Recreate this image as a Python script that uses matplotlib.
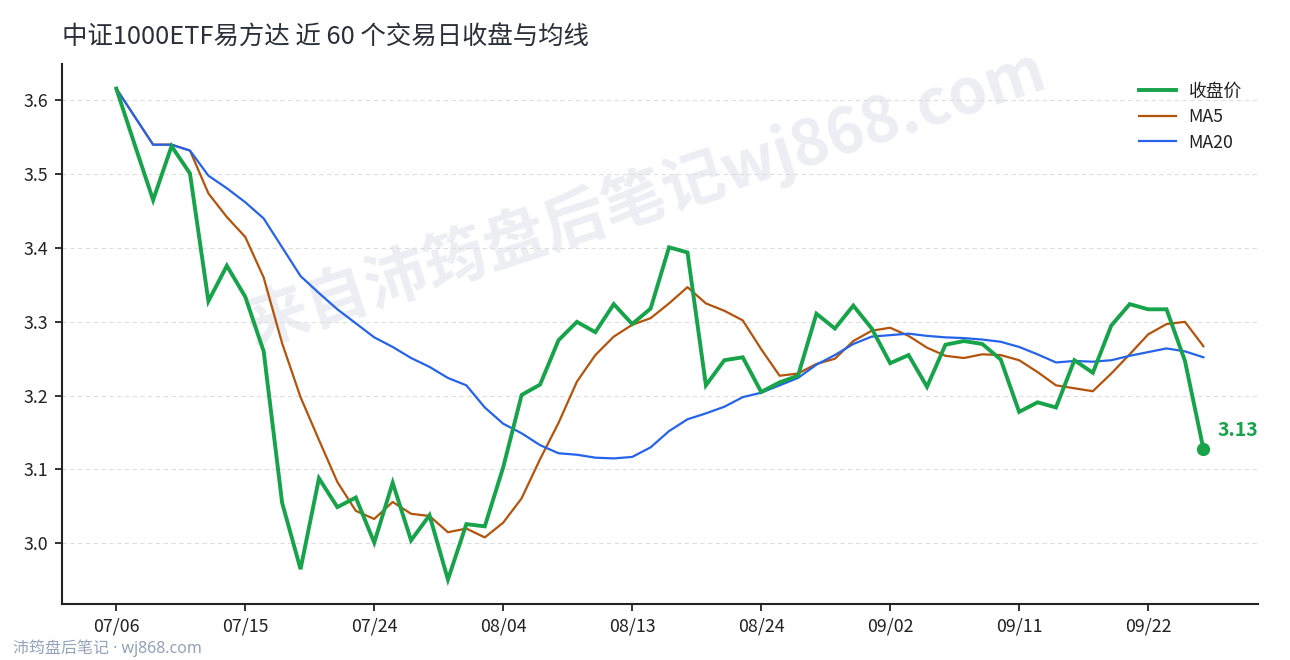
import matplotlib
matplotlib.use("Agg")
import matplotlib.pyplot as plt
import numpy as np

plt.rcParams['font.family'] = ['Noto Sans CJK SC', 'DejaVu Sans']

dates = ['07/06', '07/07', '07/08', '07/09', '07/10', '07/13', '07/14', '07/15', '07/16', '07/17',
         '07/20', '07/21', '07/22', '07/23', '07/24', '07/27', '07/28', '07/29', '07/30', '07/31',
         '08/03', '08/04', '08/05', '08/06', '08/07', '08/10', '08/11', '08/12', '08/13', '08/14',
         '08/17', '08/18', '08/19', '08/20', '08/21', '08/24', '08/25', '08/26', '08/27', '08/28',
         '08/31', '09/01', '09/02', '09/03', '09/04', '09/07', '09/08', '09/09', '09/10', '09/11',
         '09/14', '09/15', '09/16', '09/17', '09/18', '09/21', '09/22', '09/23', '09/24', '09/25']

close = [3.616, 3.540, 3.465, 3.538, 3.501, 3.328, 3.376, 3.334, 3.260, 3.055,
         2.965, 3.088, 3.049, 3.062, 3.001, 3.082, 3.004, 3.038, 2.951, 3.026,
         3.023, 3.103, 3.201, 3.215, 3.275, 3.300, 3.286, 3.324, 3.297, 3.318,
         3.401, 3.394, 3.214, 3.248, 3.252, 3.205, 3.218, 3.227, 3.311, 3.291,
         3.322, 3.291, 3.244, 3.255, 3.212, 3.269, 3.274, 3.270, 3.249, 3.178,
         3.191, 3.184, 3.248, 3.231, 3.295, 3.324, 3.317, 3.317, 3.247, 3.128]

ma5 = [3.616, 3.578, 3.540, 3.540, 3.532, 3.474, 3.442, 3.415, 3.360, 3.271,
       3.198, 3.140, 3.083, 3.044, 3.033, 3.056, 3.040, 3.037, 3.015, 3.020,
       3.008, 3.028, 3.061, 3.114, 3.163, 3.219, 3.255, 3.280, 3.296, 3.305,
       3.325, 3.347, 3.325, 3.315, 3.302, 3.263, 3.227, 3.230, 3.243, 3.250,
       3.274, 3.288, 3.292, 3.281, 3.265, 3.254, 3.251, 3.256, 3.255, 3.248,
       3.232, 3.214, 3.210, 3.206, 3.230, 3.256, 3.283, 3.297, 3.300, 3.267]

ma20 = [3.616, 3.578, 3.540, 3.540, 3.532, 3.498, 3.481, 3.462, 3.440, 3.401,
        3.362, 3.339, 3.317, 3.298, 3.279, 3.266, 3.251, 3.239, 3.224, 3.214,
        3.184, 3.162, 3.149, 3.133, 3.122, 3.120, 3.116, 3.115, 3.117, 3.130,
        3.152, 3.168, 3.176, 3.185, 3.198, 3.204, 3.214, 3.224, 3.242, 3.255,
        3.270, 3.280, 3.282, 3.284, 3.281, 3.279, 3.278, 3.276, 3.273, 3.266,
        3.256, 3.245, 3.247, 3.246, 3.248, 3.254, 3.259, 3.264, 3.260, 3.252]

series_labels = ['收盘价', 'MA5', 'MA20']
title = '中证1000ETF易方达 近 60 个交易日收盘与均线'
watermark = '来自沛筠盘后笔记wj868.com'
credit = '沛筠盘后笔记 · wj868.com'

GREEN = '#16a34a'
ORANGE = '#b4530c'
BLUE = '#2563eb'
DARK = '#222222'

fig = plt.figure(figsize=(12.9, 6.6), dpi=100)
ax = fig.add_axes([0.048, 0.0848, 0.927, 0.8182])
ax.set_facecolor('none')

x = np.arange(len(dates))
ax.plot(x, close, color=GREEN, lw=2.8, label=series_labels[0], zorder=4, solid_joinstyle='miter')
ax.plot(x, ma5, color=ORANGE, lw=1.6, label=series_labels[1], zorder=3)
ax.plot(x, ma20, color=BLUE, lw=1.6, label=series_labels[2], zorder=3)

ax.plot(x[-1], close[-1], 'o', color=GREEN, ms=8.5, zorder=5)
ax.annotate(f'{close[-1]:.2f}', xy=(x[-1], close[-1]), xytext=(10, 13),
            textcoords='offset points', color=GREEN, fontsize=14, fontweight='bold',
            ha='left', va='center')

ax.set_xticks(x[::7])
ax.set_xticklabels(dates[::7])
ax.set_yticks([3.0, 3.1, 3.2, 3.3, 3.4, 3.5, 3.6])
ax.yaxis.set_major_formatter(matplotlib.ticker.FormatStrFormatter('%.1f'))
ax.margins(x=0.05, y=0.05)

ax.yaxis.grid(True, linestyle=(0, (4, 3)), color='#dedede', lw=0.8, zorder=0.5)
ax.set_axisbelow(True)
for s in ['top', 'right']:
    ax.spines[s].set_visible(False)
for s in ['left', 'bottom']:
    ax.spines[s].set_color(DARK)
    ax.spines[s].set_linewidth(1.5)
ax.tick_params(axis='both', colors=DARK, labelsize=12.8, length=5, width=1.3, pad=5)

leg = ax.legend(loc='upper right', frameon=False, fontsize=12.8, handlelength=2.1,
                handletextpad=0.7, labelspacing=0.42, bbox_to_anchor=(1.0, 0.995))
for t in leg.get_texts():
    t.set_color(DARK)

fig.text(0.048, 1 - 37 / 660, title, fontsize=18.3, color='#2a2f3a', ha='left', va='center')

ax.text(646 / 1290, 1 - 197 / 660, watermark, transform=fig.transFigure, rotation=18,
        rotation_mode='anchor', ha='center', va='center', fontsize=45, fontweight='bold',
        color='#eceef3', zorder=0.2)

fig.text(13 / 1290, 1 - 648 / 660, credit, fontsize=11.5, color='#94a3b8', ha='left', va='center',
         family=['Noto Sans', 'Noto Sans CJK SC', 'DejaVu Sans'])

fig.savefig('out.png', dpi=100)
